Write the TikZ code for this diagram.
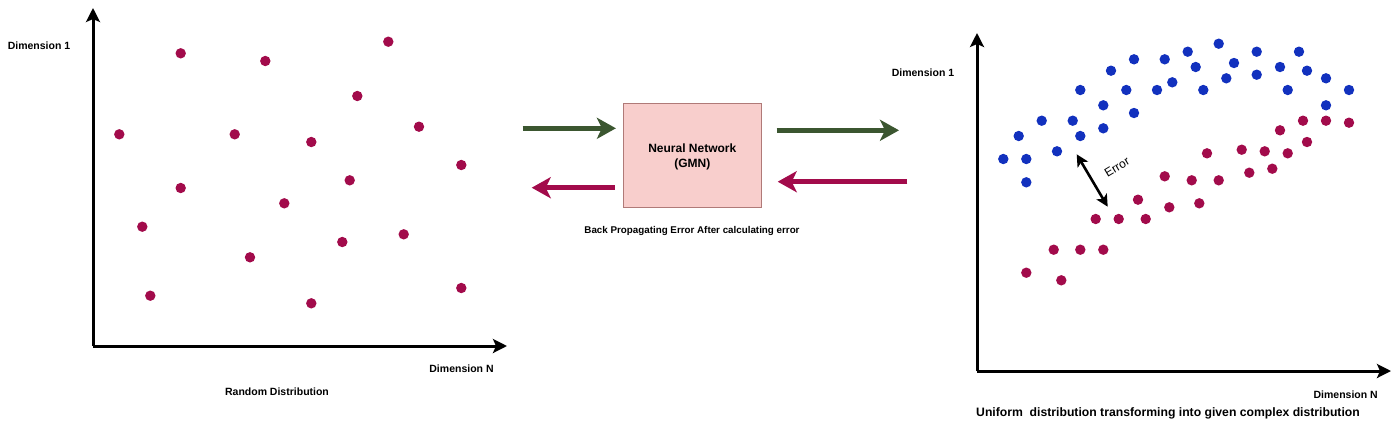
\documentclass[tikz,border=0pt]{standalone}
\usepackage{fontspec}
\setmainfont{Liberation Sans}
\usepackage{tikz}
\usetikzlibrary{arrows.meta,positioning}

\definecolor{dotred}{HTML}{A20B4B}
\definecolor{dotblue}{HTML}{1231BE}
\definecolor{fwdgreen}{HTML}{3B5630}
\definecolor{boxfill}{HTML}{F8CECC}
\definecolor{boxline}{HTML}{B07A78}

\tikzset{
    axis/.style={line width=3pt,-{Stealth[length=14pt,width=14pt,inset=3pt]}},
    fwd/.style={fwdgreen,line width=4.8pt,-{Stealth[length=19pt,width=21pt,inset=5pt]}},
    back/.style={dotred,line width=4.8pt,-{Stealth[length=19pt,width=21pt,inset=5pt]}},
    lbl/.style={font=\bfseries\fontsize{10.5}{12}\selectfont,inner sep=0pt},
    reddot/.style={fill=dotred},
    bluedot/.style={fill=dotblue}
}

\begin{document}
\begin{tikzpicture}[x=1pt,y=-1pt]
                \useasboundingbox (0,0) rectangle (1400,421);
                % left plot
                \coordinate (lo) at (93,346);
                \coordinate (ly) at (93,8);
                \coordinate (lx) at (507,346);
                \draw[axis] (lo) -- (ly);
                \draw[axis] (lo) -- (lx);
                \node[lbl] (ldimone) at (39,46) {Dimension 1};
                \node[lbl] (ldimn) at (461.5,369) {Dimension N};
                \node[lbl] (lcap) at (277,392) {Random Distribution};
                \foreach \px/\py in {180.7/53.3,265.3/61,388.3/41.7,357.3/96,119.3/134.3,234.7/134.3,311.3/142,419/126.7,461.3/165,180.7/188,349.7/180.3,284.3/203.3,142.3/226.7,403.7/234.3,342.3/242,250/257.3,150.3/295.7,311.3/303.3,461.3/288}
                    \fill[reddot] (\px,\py) circle (5.2);
                % network
                \node[draw=boxline,fill=boxfill,line width=0.8pt,minimum width=138pt,minimum height=104pt] (gmn) at (692.3,155.3) {};
                \node[align=center,inner sep=0pt,font=\bfseries\fontsize{12}{15.5}\selectfont] (gmntext) at ([yshift=-1.8pt]gmn.center) {Neural Network\\(GMN)};
                \node[lbl,font=\bfseries\fontsize{9.8}{12}\selectfont] (bpcap) at (692,230.7) {Back Propagating Error After calculating error};
                \coordinate (fa) at (522.7,128.3);
                \coordinate (fb) at (776.7,130.3);
                \coordinate (fc) at (899,130.3);
                \coordinate (ba) at (907.3,181.7);
                \coordinate (bb) at (531.7,187.7);
                \draw[fwd] (fa) -- ([xshift=-7pt]gmn.west |- fa);
                \draw[fwd] (fb) -- (fc);
                \draw[back] (ba) -- ([xshift=16pt]gmn.east |- ba);
                \draw[back] (gmn.west |- bb) ++(-8pt,0) -- (bb);
                % right plot
                \coordinate (ro) at (977,371);
                \coordinate (ry) at (977,33);
                \coordinate (rx) at (1391,371);
                \draw[axis] (ro) -- (ry);
                \draw[axis] (ro) -- (rx);
                \node[lbl] (rdimone) at (923,72.3) {Dimension 1};
                \node[lbl] (rdimn) at (1345.7,395) {Dimension N};
                \node[lbl,font=\bfseries\fontsize{12.2}{14}\selectfont,anchor=west] (rcap) at (976,413.3) {Uniform\ \ distribution transforming into given complex distribution};
                \foreach \px/\py in {1218.7/43.7,1187.7/51.7,1256.7/51.7,1299/51.7,1134/59.3,1164.7/59.3,1195.7/67,1234/63,1280/67,1307/70.7,1111/70.7,1172.3/82.3,1226.3/78.3,1256.7/74.7,1326/78.3,1080.3/90,1126.3/90,1157/90,1203.3/90,1287.7/90,1349/90,1103.3/105.3,1134/113,1326/105.3,1041.7/120.7,1072.7/120.7,1103.3/128.3,1018.7/136,1080.3/136,1057/151.3,1003.3/159,1026.3/159,1026.3/182.3}
                    \fill[bluedot] (\px,\py) circle (5.2);
                \foreach \px/\py in {1303/120.7,1326/120.7,1349/122.7,1280/130.3,1307/142,1241.7/149.7,1264.7/151.3,1287.7/153.3,1207/153.3,1249.3/172.7,1272.3/168.7,1164.7/176.3,1191.7/180.3,1218.7/180.3,1138/199.7,1199.3/203.3,1169.3/207.3,1095.7/219,1118.7/219,1145.7/219,1053.7/249.7,1080.3/249.7,1103.3/249.7,1026.3/272.7,1061.3/280.3}
                    \fill[reddot] (\px,\py) circle (5.2);
                \coordinate (ea) at (1076.7,154.3);
                \coordinate (eb) at (1107.7,206.7);
                \draw[line width=2.6pt,{Stealth[length=12pt,width=12pt,inset=3pt]}-{Stealth[length=12pt,width=12pt,inset=3pt]}] (ea) -- (eb);
                \node[inner sep=0pt,rotate=31,font=\fontsize{12}{13}\selectfont] (errlbl) at (1117,167) {Error};
\end{tikzpicture}
\end{document}
